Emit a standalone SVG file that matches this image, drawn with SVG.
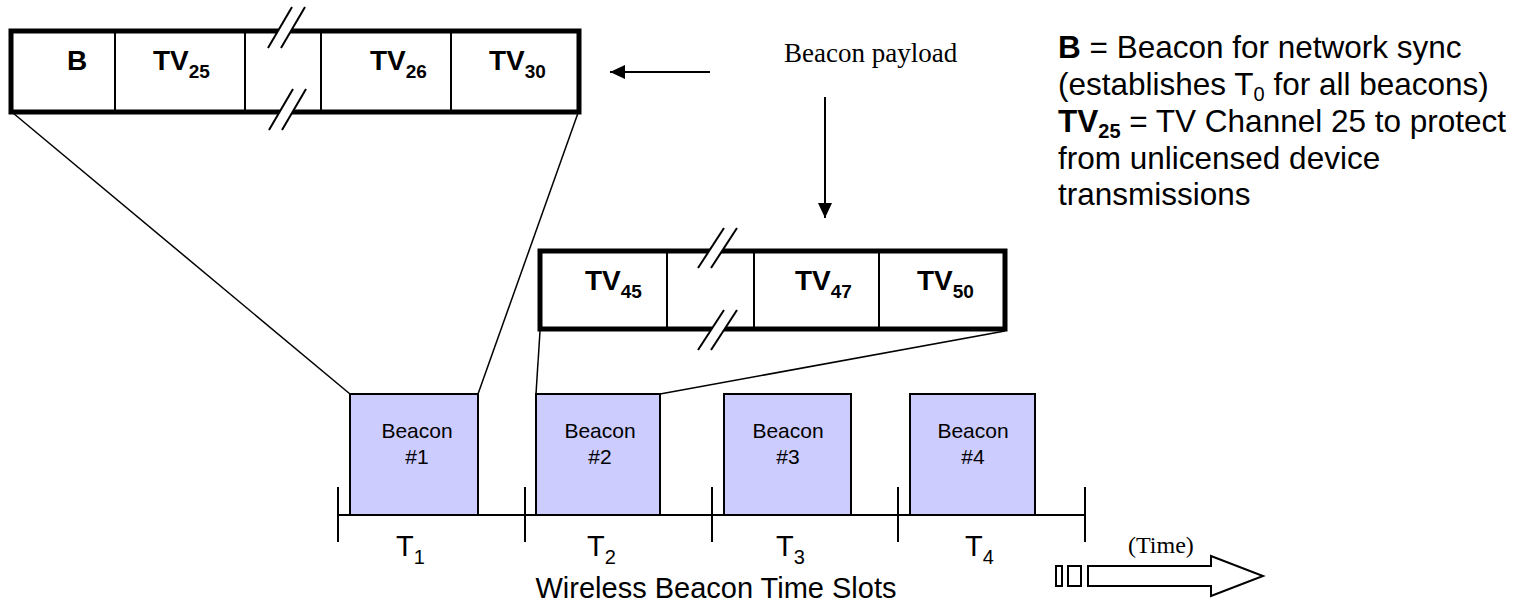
<svg xmlns="http://www.w3.org/2000/svg" width="1524" height="607" viewBox="0 0 1524 607">
<defs>
<style>
.frame{fill:#fff;stroke:#000;stroke-width:5}
.div{stroke:#000;stroke-width:2}
.gap{fill:#fff;stroke:none}
.slash{stroke:#000;stroke-width:2}
.cell{font-family:"Liberation Sans",Arial,sans-serif;font-weight:bold;font-size:28px;fill:#000}
.sub{font-size:19px}
.beacon{fill:#ccccff;stroke:#000;stroke-width:2}
.btxt{font-family:"Liberation Sans",Arial,sans-serif;font-size:21px;fill:#000;text-anchor:middle}
.conn{stroke:#000;stroke-width:1.5;fill:none}
.tl{stroke:#000;stroke-width:2;fill:none}
.tlab{font-family:"Liberation Sans",Arial,sans-serif;font-size:29px;fill:#000}
.leg{font-family:"Liberation Sans",Arial,sans-serif;font-size:31.5px;fill:#000}
.serif{font-family:"Liberation Serif","Times New Roman",serif;fill:#000}
</style>
<marker id="ah" markerWidth="16" markerHeight="14" refX="15" refY="7" orient="auto" markerUnits="userSpaceOnUse">
<path d="M0,0 L15,7 L0,14 Z" fill="#000"/>
</marker>
</defs>
<rect width="1524" height="607" fill="#fff"/>

<g id="connectors">
<line class="conn" x1="13" y1="113" x2="350" y2="394"/>
<line class="conn" x1="578" y1="113" x2="478" y2="394"/>
<line class="conn" x1="540" y1="331" x2="536" y2="394"/>
<line class="conn" x1="1005" y1="331" x2="660" y2="394"/>
<line class="tl" x1="710" y1="72" x2="610" y2="72" marker-end="url(#ah)"/>
<line class="tl" x1="825" y1="97" x2="825" y2="218" marker-end="url(#ah)"/>
</g>

<g id="top-payload">
<rect class="frame" x="11" y="31" width="568" height="81"/>
<line class="div" x1="115" y1="31" x2="115" y2="112"/>
<line class="div" x1="245" y1="31" x2="245" y2="112"/>
<line class="div" x1="321" y1="31" x2="321" y2="112"/>
<line class="div" x1="451" y1="31" x2="451" y2="112"/>
<polygon class="gap" points="280.9,26 293.9,26 288,36 275,36"/>
<polygon class="gap" points="282.5,107 295.5,107 289.6,117 276.6,117"/>
<line class="slash" x1="268" y1="48" x2="292" y2="7"/>
<line class="slash" x1="281" y1="48" x2="305" y2="7"/>
<line class="slash" x1="269" y1="130" x2="293" y2="89"/>
<line class="slash" x1="282" y1="130" x2="306" y2="89"/>
<text class="cell" x="67" y="70">B</text>
<text class="cell" x="153" y="70">TV<tspan class="sub" dy="8">25</tspan></text>
<text class="cell" x="370" y="70">TV<tspan class="sub" dy="8">26</tspan></text>
<text class="cell" x="489" y="70">TV<tspan class="sub" dy="8">30</tspan></text>
</g>

<g id="mid-payload">
<rect class="frame" x="540" y="251" width="465" height="78"/>
<line class="div" x1="667" y1="251" x2="667" y2="329"/>
<line class="div" x1="754" y1="251" x2="754" y2="329"/>
<line class="div" x1="879" y1="251" x2="879" y2="329"/>
<polygon class="gap" points="712.3,246 725.3,246 718.8,256 705.8,256"/>
<polygon class="gap" points="714.9,324 727.9,324 721.4,334 708.4,334"/>
<line class="slash" x1="698" y1="268" x2="724" y2="228"/>
<line class="slash" x1="711" y1="268" x2="737" y2="228"/>
<line class="slash" x1="698" y1="350" x2="724" y2="310"/>
<line class="slash" x1="711" y1="350" x2="737" y2="310"/>
<text class="cell" x="585" y="290">TV<tspan class="sub" dy="8">45</tspan></text>
<text class="cell" x="795" y="290">TV<tspan class="sub" dy="8">47</tspan></text>
<text class="cell" x="917" y="290">TV<tspan class="sub" dy="8">50</tspan></text>
</g>

<g id="beacon1">
<rect class="beacon" x="350" y="394" width="128" height="121"/>
<text class="btxt" x="417" y="438">Beacon</text>
<text class="btxt" x="417" y="464">#1</text>
</g>
<g id="beacon2">
<rect class="beacon" x="536" y="394" width="124" height="121"/>
<text class="btxt" x="600" y="438">Beacon</text>
<text class="btxt" x="600" y="464">#2</text>
</g>
<g id="beacon3">
<rect class="beacon" x="724" y="394" width="127" height="121"/>
<text class="btxt" x="788" y="438">Beacon</text>
<text class="btxt" x="788" y="464">#3</text>
</g>
<g id="beacon4">
<rect class="beacon" x="910" y="394" width="125" height="121"/>
<text class="btxt" x="973" y="438">Beacon</text>
<text class="btxt" x="973" y="464">#4</text>
</g>

<g id="timeline">
<line class="tl" x1="338" y1="515" x2="1085" y2="515"/>
<line class="tl" x1="338" y1="487" x2="338" y2="542"/>
<line class="tl" x1="525" y1="487" x2="525" y2="542"/>
<line class="tl" x1="712" y1="487" x2="712" y2="542"/>
<line class="tl" x1="898" y1="487" x2="898" y2="542"/>
<line class="tl" x1="1085" y1="487" x2="1085" y2="542"/>
<text class="tlab" x="396" y="556">T<tspan font-size="20" dy="8">1</tspan></text>
<text class="tlab" x="587" y="556">T<tspan font-size="20" dy="8">2</tspan></text>
<text class="tlab" x="776" y="556">T<tspan font-size="20" dy="8">3</tspan></text>
<text class="tlab" x="965" y="556">T<tspan font-size="20" dy="8">4</tspan></text>
<text class="tlab" x="716" y="598" font-size="25.5" text-anchor="middle">Wireless Beacon Time Slots</text>
</g>

<g id="time-arrow">
<rect class="tl" x="1056" y="566" width="6" height="20" fill="#fff"/>
<rect class="tl" x="1068" y="566" width="13" height="20" fill="#fff"/>
<polygon class="tl" fill="#fff" points="1088,566 1211,566 1211,556 1263,576 1211,596 1211,586 1088,586"/>
<text class="serif" x="1128" y="553" font-size="24">(Time)</text>
</g>

<g id="payload-label">
<text class="serif" x="784" y="62" font-size="27">Beacon payload</text>
</g>

<g id="legend">
<text class="leg" x="1058" y="58"><tspan font-weight="bold">B</tspan> = Beacon for network sync</text>
<text class="leg" x="1058" y="95">(establishes T<tspan font-size="20" dy="6">0</tspan><tspan dy="-6"> for all beacons)</tspan></text>
<text class="leg" x="1058" y="132"><tspan font-weight="bold">TV<tspan font-size="20" dy="6">25</tspan></tspan><tspan dy="-6"> = TV Channel 25 to protect</tspan></text>
<text class="leg" x="1058" y="169">from unlicensed device</text>
<text class="leg" x="1058" y="205">transmissions</text>
</g>
</svg>
